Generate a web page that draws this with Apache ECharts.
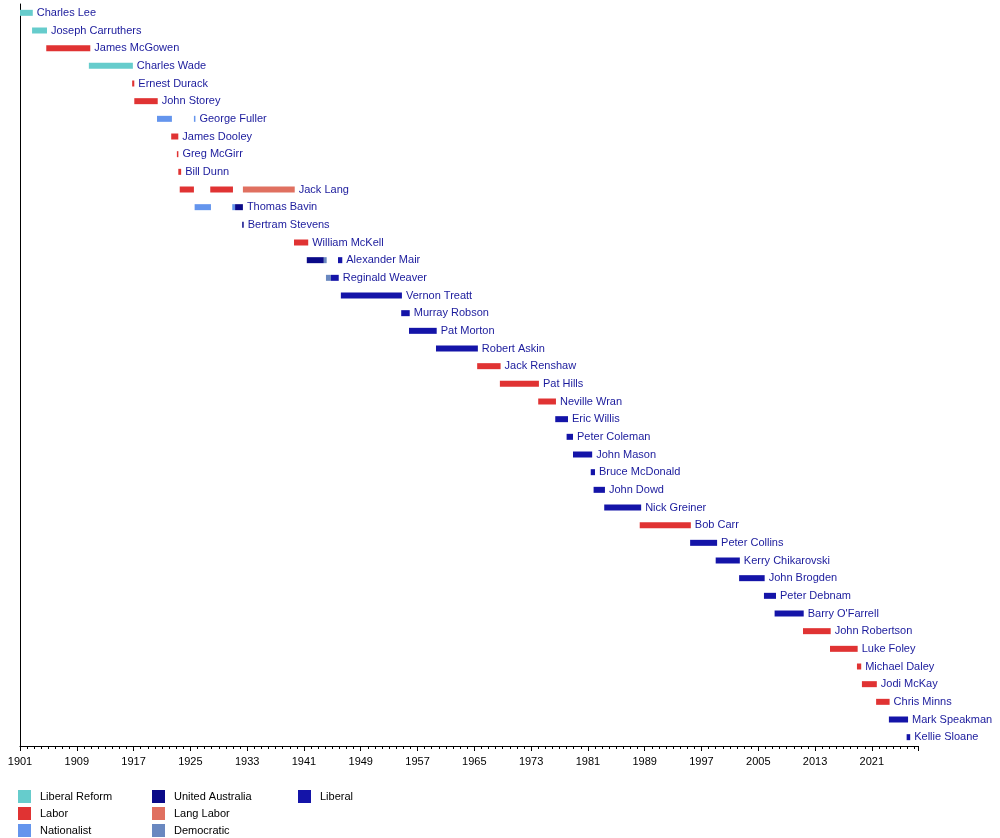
<!DOCTYPE html>
<html>
<head>
    <meta charset="utf-8">
    <title>NSW Opposition Leaders</title>
    <script src="https://cdn.jsdelivr.net/npm/echarts@6/dist/echarts.min.js"></script>
    <style>body{margin:0;background:#fff}</style>
</head>
<body>
<div id="main" style="width:1000px;height:838px;"></div>
<script type="text/javascript">
    // leaders, top to bottom
    var leaders = ['Charles Lee', 'Joseph Carruthers', 'James McGowen', 'Charles Wade', 'Ernest Durack',
        'John Storey', 'George Fuller', 'James Dooley', 'Greg McGirr', 'Bill Dunn', 'Jack Lang',
        'Thomas Bavin', 'Bertram Stevens', 'William McKell', 'Alexander Mair', 'Reginald Weaver',
        'Vernon Treatt', 'Murray Robson', 'Pat Morton', 'Robert Askin', 'Jack Renshaw', 'Pat Hills',
        'Neville Wran', 'Eric Willis', 'Peter Coleman', 'John Mason', 'Bruce McDonald', 'John Dowd',
        'Nick Greiner', 'Bob Carr', 'Peter Collins', 'Kerry Chikarovski', 'John Brogden', 'Peter Debnam',
        "Barry O'Farrell", 'John Robertson', 'Luke Foley', 'Michael Daley', 'Jodi McKay', 'Chris Minns',
        'Mark Speakman', 'Kellie Sloane'];

    var parties = ['Liberal Reform', 'Labor', 'Nationalist', 'United Australia', 'Lang Labor', 'Democratic', 'Liberal'];
    var partyColors = ['#66cccc', '#e03333', '#6495ed', '#0a0a88', '#e07060', '#6a88c0', '#1414a8'];

    // [row, start year, end year, party index]
    var terms = [
        [0, 1901.0, 1902.8, 0], [1, 1902.7, 1904.8, 0], [2, 1904.7, 1910.9, 1], [3, 1910.7, 1916.9, 0],
        [4, 1916.8, 1917.1, 1], [5, 1917.1, 1920.4, 1], [6, 1920.3, 1922.4, 2], [6, 1925.5, 1925.7, 2],
        [7, 1922.3, 1923.3, 1], [8, 1923.1, 1923.3, 1], [9, 1923.3, 1923.7, 1],
        [10, 1923.5, 1925.5, 1], [10, 1927.8, 1931.0, 1], [10, 1932.4, 1939.7, 4],
        [11, 1925.6, 1927.9, 2], [11, 1930.9, 1931.3, 2], [11, 1931.3, 1932.4, 3],
        [12, 1932.3, 1932.5, 3], [13, 1939.6, 1941.6, 1],
        [14, 1941.4, 1943.8, 3], [14, 1943.8, 1944.2, 5], [14, 1945.8, 1946.4, 6],
        [15, 1944.1, 1944.8, 5], [15, 1944.8, 1945.9, 6],
        [16, 1946.2, 1954.8, 6], [17, 1954.7, 1955.9, 6], [18, 1955.8, 1959.7, 6], [19, 1959.6, 1965.5, 6],
        [20, 1965.4, 1968.7, 1], [21, 1968.6, 1974.1, 1], [22, 1974.0, 1976.5, 1],
        [23, 1976.4, 1978.2, 6], [24, 1978.0, 1978.9, 6], [25, 1978.9, 1981.6, 6], [26, 1981.4, 1982.0, 6],
        [27, 1981.8, 1983.4, 6], [28, 1983.3, 1988.5, 6], [29, 1988.3, 1995.5, 1],
        [30, 1995.4, 1999.2, 6], [31, 1999.0, 2002.4, 6], [32, 2002.3, 2005.9, 6], [33, 2005.8, 2007.5, 6],
        [34, 2007.3, 2011.4, 6], [35, 2011.3, 2015.2, 1], [36, 2015.1, 2019.0, 1], [37, 2018.9, 2019.5, 1],
        [38, 2019.6, 2021.7, 1], [39, 2021.6, 2023.5, 1], [40, 2023.4, 2026.1, 6], [41, 2025.9, 2026.4, 6]
    ];

    // last segment per row gets the name label
    var lastEnd = {};
    terms.forEach(function (t) {
        if (lastEnd[t[0]] === undefined || t[2] > lastEnd[t[0]]) lastEnd[t[0]] = t[2];
    });

    function renderBar(params, api) {
        var row = api.value(0);
        var p0 = api.coord([api.value(1), row]);
        var p1 = api.coord([api.value(2), row]);
        var h = 6;
        var w = Math.max(p1[0] - p0[0], 1.5);
        var children = [{
            type: 'rect',
            shape: {x: p0[0], y: p0[1] - h / 2, width: w, height: h},
            style: {fill: api.visual('color')}
        }];
        if (api.value(3) === 1) {
            children.push({
                type: 'text',
                style: {
                    x: p0[0] + w + 4, y: p0[1],
                    text: leaders[row], fill: '#1a1a9c',
                    font: '11px "Liberation Sans", Arial, sans-serif',
                    verticalAlign: 'middle', align: 'left'
                }
            });
        }
        return {type: 'group', children: children};
    }

    var series = parties.map(function (p, i) {
        return {
            name: p,
            type: 'custom',
            renderItem: renderBar,
            color: partyColors[i],
            encode: {x: [1, 2], y: 0},
            data: terms.filter(function (t) { return t[3] === i; }).map(function (t) {
                return [t[0], t[1], t[2], t[2] === lastEnd[t[0]] ? 1 : 0];
            })
        };
    });

    function legendAt(left, names) {
        return {
            left: left, top: 790, orient: 'vertical', itemGap: 4, padding: 0,
            itemWidth: 13, itemHeight: 13, icon: 'rect',
            selectedMode: false,
            textStyle: {color: '#000', fontSize: 11, fontFamily: '"Liberation Sans", Arial, sans-serif', padding: [0, 0, 0, 4]},
            data: names
        };
    }

    var myChart = echarts.init(document.getElementById('main'));
    myChart.setOption({
        animation: false,
        backgroundColor: '#fff',
        grid: {left: 20, right: 82, top: 4, bottom: 92},
        legend: [
            legendAt(18, ['Liberal Reform', 'Labor', 'Nationalist']),
            legendAt(152, ['United Australia', 'Lang Labor', 'Democratic']),
            legendAt(298, ['Liberal'])
        ],
        xAxis: {
            type: 'value', min: 1901, max: 2027.5, interval: 8, position: 'bottom',
            axisLine: {show: true, onZero: false, lineStyle: {color: '#000'}},
            axisTick: {show: true, length: 5, lineStyle: {color: '#000'}},
            minorTick: {show: true, splitNumber: 8, length: 3, lineStyle: {color: '#000'}},
            splitLine: {show: false},
            axisLabel: {
                color: '#000', fontSize: 11, fontFamily: '"Liberation Sans", Arial, sans-serif',
                showMaxLabel: false, margin: 10,
                formatter: function (v) { return String(v); }
            }
        },
        yAxis: {
            type: 'value', min: -0.5, max: 41.5, inverse: true,
            axisLine: {show: true, onZero: false, lineStyle: {color: '#000'}},
            axisTick: {show: false}, axisLabel: {show: false}, splitLine: {show: false}
        },
        series: series
    });
</script>
</body>
</html>
